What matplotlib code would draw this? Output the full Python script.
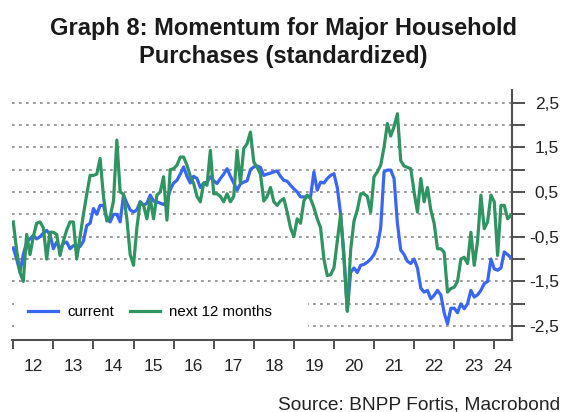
import matplotlib
matplotlib.use("Agg")
import matplotlib.pyplot as plt
import numpy as np
from matplotlib.patches import Rectangle
from matplotlib.lines import Line2D
from matplotlib.ticker import FixedLocator, FixedFormatter, NullFormatter

plt.rcParams['font.family'] = ['Liberation Sans', 'DejaVu Sans']

# ---------------- data (monthly, from Jan 2012) ----------------
start_year = 2012
current = [
    -0.75, -1.0, -1.29, -0.9, -0.62, -0.55, -0.47, -0.55, -0.5, -0.42, -0.36, -0.45,   # 2012
    -0.77, -0.62, -0.77, -0.65, -0.62, -0.77, -0.7, -0.7, -0.72, -0.6, -0.25, -0.2,    # 2013
    0.13, 0.0, 0.2, 0.2, -0.1, -0.17, 0.0, 0.0, -0.17, 0.43, 0.25, 0.1,                # 2014
    0.05, 0.1, 0.28, 0.2, 0.25, 0.43, 0.3, 0.28, 0.25, 0.22, 0.3, 0.55,                # 2015
    0.7, 0.76, 0.9, 1.06, 0.85, 0.7, 0.85, 0.8, 0.6, 0.7, 0.72, 0.84,                  # 2016
    0.75, 0.69, 0.8, 0.9, 1.02, 0.85, 0.7, 0.54, 0.68, 0.72, 0.75, 1.0,                # 2017
    1.06, 1.08, 1.05, 0.87, 0.9, 0.92, 0.95, 0.97, 0.85, 0.76, 0.74, 0.65,             # 2018
    0.57, 0.5, 0.39, 0.39, 0.39, 0.39, 0.95, 0.54, 0.72, 0.7, 0.8, 0.87,               # 2019
    0.91, 0.6, 0.0, -0.9, -2.15, -1.3, -1.2, -1.3, -1.14, -1.12, -1.07, -1.0,          # 2020
    -0.9, -0.72, -0.3, 0.95, 0.99, 0.99, 0.8, -0.2, -0.8, -0.9, -1.05, -1.1,           # 2021
    -1.0, -1.2, -1.65, -1.74, -1.7, -1.89, -1.81, -1.7, -1.8, -2.2, -2.45, -2.1,       # 2022
    -2.1, -2.2, -2.0, -2.11, -2.0, -1.7, -1.85, -1.8, -1.7, -1.55, -1.5, -1.0,         # 2023
    -1.22, -1.25, -1.2, -0.84, -0.9, -0.97,                                           # 2024
]
next_12_months = [
    -0.17, -0.8, -1.3, -1.5, -0.45, -0.9, -0.5, -0.2, -0.17, -0.3, -1.0, -0.4,         # 2012
    -0.4, -0.45, -0.92, -0.6, -0.35, -0.17, -0.17, -1.0, -0.5, 0.0, 0.45, 0.87,        # 2013
    0.87, 0.9, 1.25, 0.4, -0.15, -0.05, 0.3, 1.66, 0.5, 0.45, -0.1, -0.9,              # 2014
    -1.14, -0.3, 0.28, 0.2, -0.1, 0.35, -0.1, 0.43, 0.5, 0.84, -0.13, 1.0,             # 2015
    1.02, 1.1, 1.28, 1.28, 1.1, 0.85, 0.69, 0.4, 0.28, 0.7, 0.65, 1.43,                # 2016
    0.46, 0.46, 0.4, 0.28, 0.46, 0.28, 0.4, 1.43, 0.7, 1.47, 1.58, 1.84,               # 2017
    1.17, 1.05, 0.9, 0.3, 0.4, 0.6, 0.28, 0.2, 0.3, 0.35, 0.05, -0.3,                  # 2018
    -0.5, -0.1, -0.2, 0.3, 0.43, 0.35, 0.15, -0.1, -0.3, -1.0, -1.37, -1.35,           # 2019
    -1.2, -0.6, 0.0, -1.0, -2.17, -0.8, -0.15, 0.1, 0.46, 0.46, 0.4, 0.05,             # 2020
    0.84, 0.95, 1.1, 1.5, 2.03, 1.75, 1.96, 2.25, 1.2, 1.08, 1.05, 1.02,               # 2021
    0.5, 0.05, 0.8, 0.28, 0.6, 0.1, -0.2, -0.77, -0.77, -0.85, -1.74, -1.66,           # 2022
    -1.63, -1.5, -1.0, -0.96, -1.1, -0.4, -1.14, -0.6, 0.43, -0.32, -0.17, 0.43,       # 2023
    0.28, -0.92, 0.2, 0.2, -0.1, -0.02,                                               # 2024
]
series_names = ['current', 'next 12 months']
year_ticks = list(range(2012, 2025))
year_labels = ['12', '13', '14', '15', '16', '17', '18', '19', '20', '21', '22', '23', '24']
y_ticks = [-2.5, -2.0, -1.5, -1.0, -0.5, 0.0, 0.5, 1.0, 1.5, 2.0, 2.5]
y_labels = ['-2,5', '', '-1,5', '', '-0,5', '', '0,5', '', '1,5', '', '2,5']

title_lines = ['Graph 8: Momentum for Major Household', 'Purchases (standardized)']
source_text = 'Source: BNPP Fortis, Macrobond'

# ---------------- styling ----------------
BLUE = '#3a66f5'
GREEN = '#2f9462'
AXC = '#505050'
W, H = 569, 412

x = start_year + np.arange(len(current)) / 12.0
x2 = start_year + np.arange(len(next_12_months)) / 12.0

fig = plt.figure(figsize=(W / 100, H / 100), dpi=100)
ax = fig.add_axes([12 / W, 72 / H, 499.7 / W, 250 / H])
xmin, xmax = 2011.968, 2024.435
ax.set_xlim(xmin, xmax)
ax.set_ylim(-2.81, 2.78)

ax.set_axisbelow(True)
ax.yaxis.set_major_locator(FixedLocator(y_ticks))
ax.yaxis.set_major_formatter(FixedFormatter(y_labels))
ax.grid(axis='y', color='#9c9c9c', lw=1.4, ls=(0, (1.4, 2.2)))
ax.grid(axis='x', visible=False)

ax.plot(x, current, color=BLUE, lw=2.3, zorder=3, solid_joinstyle='round')
ax.plot(x2, next_12_months, color=GREEN, lw=2.3, zorder=3, solid_joinstyle='round')

# white legend backdrop hiding the lower grid lines
ax.add_patch(Rectangle((0.004, 0.028), 0.588, 0.148, transform=ax.transAxes,
                       facecolor='white', edgecolor='none', zorder=1.5))
handles = [Line2D([], [], color=BLUE, lw=2.3), Line2D([], [], color=GREEN, lw=2.3)]
ax.legend(handles, series_names, loc='center left', bbox_to_anchor=(0.032, 0.112),
          ncol=2, frameon=False, borderpad=0, borderaxespad=0, handlelength=2.0,
          handletextpad=0.6, columnspacing=1.1, fontsize=10.8)

# spines
for s in ['top', 'left']:
    ax.spines[s].set_visible(False)
for s in ['right', 'bottom']:
    ax.spines[s].set_color(AXC)
    ax.spines[s].set_linewidth(1.5)

# y axis on the right
ax.yaxis.tick_right()
ax.tick_params(axis='y', which='major', direction='out', length=9.4, width=1.4,
               color=AXC, pad=24.6, labelsize=12.5, labelcolor='#222222')
for t in ax.yaxis.get_major_ticks():
    t.label2.set_horizontalalignment('right')

# x axis: year ticks, labels centred between ticks
ax.xaxis.set_major_locator(FixedLocator(year_ticks))
ax.xaxis.set_major_formatter(NullFormatter())
mids = [y + 0.5 for y in year_ticks[:-1]] + [(year_ticks[-1] + xmax) / 2]
ax.xaxis.set_minor_locator(FixedLocator(mids))
ax.xaxis.set_minor_formatter(FixedFormatter(year_labels))
ax.tick_params(axis='x', which='major', direction='out', length=6.5, width=1.4, color=AXC)
ax.tick_params(axis='x', which='minor', length=0, pad=14, labelsize=12.5, labelcolor='#222222')

# titles and source
fig.text(283 / W, 1 - 35 / H, title_lines[0], ha='center', va='baseline',
         fontsize=17, fontweight='bold', color='#1a1a1a')
fig.text(283 / W, 1 - 63 / H, title_lines[1], ha='center', va='baseline',
         fontsize=17, fontweight='bold', color='#1a1a1a')
fig.text(560 / W, 3 / H, source_text, ha='right', va='baseline', fontsize=13.8, color='#222222')

fig.savefig('out.png', dpi=100)
